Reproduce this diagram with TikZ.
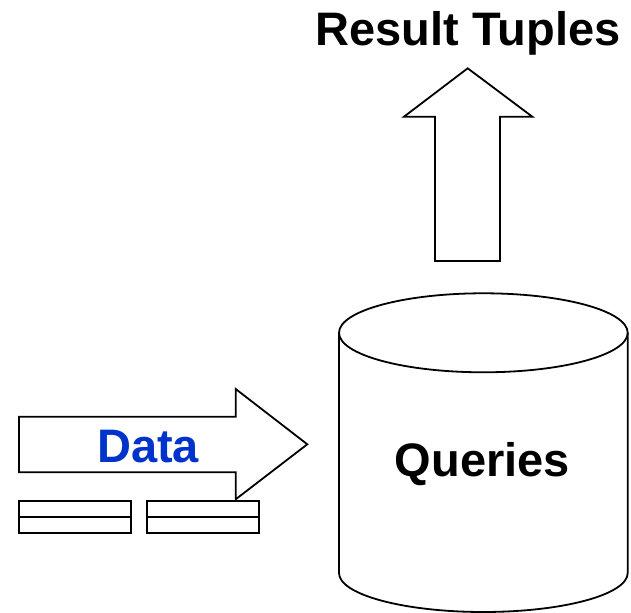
\documentclass[tikz,border=0pt]{standalone}
\usepackage{fontspec}
\setmainfont{Liberation Sans}
\definecolor{datablue}{RGB}{0,51,204}
\begin{document}
\begin{tikzpicture}[x=1bp,y=1bp,
  outline/.style={draw=black,line width=1.8bp,line join=miter,fill=white},
  bigtext/.style={inner sep=0pt,anchor=base,font=\fontsize{47bp}{56bp}\selectfont\bfseries}]
\useasboundingbox (0,0) rectangle (631,613);

% result arrow pointing upward
\draw[outline] (435,352) -- (435,496.3) -- (404,496.3) -- (467.7,544.7)
  -- (532.3,496.3) -- (500,496.3) -- (500,352) -- cycle;

% data arrow pointing right
\draw[outline] (19,140.7) -- (19,196.3) -- (235.7,196.3) -- (235.7,224)
  -- (307.3,168.7) -- (235.7,113.7) -- (235.7,140.7) -- cycle;

% tuple blocks under the data arrow
\draw[outline] (19,79.7) rectangle (131,112.3);
\draw[line width=1.8bp] (19,96.3) -- (131,96.3);
\draw[outline] (147,79.7) rectangle (259.3,112.3);
\draw[line width=1.8bp] (147,96.3) -- (259.3,96.3);

% query store cylinder
\draw[outline] (339,280.2) -- (339,40) arc[start angle=180,end angle=360,x radius=144.35,y radius=39]
  -- (627.7,280.2);
\draw[outline] (483.35,280.2) ellipse[x radius=144.35,y radius=39.5];

\node[bigtext] (result) at (468,567) {Result Tuples};
\node[bigtext,text=datablue] (data) at (148,150.3) {Data};
\node[bigtext] (queries) at (482.5,136.3) {Queries};
\end{tikzpicture}
\end{document}
